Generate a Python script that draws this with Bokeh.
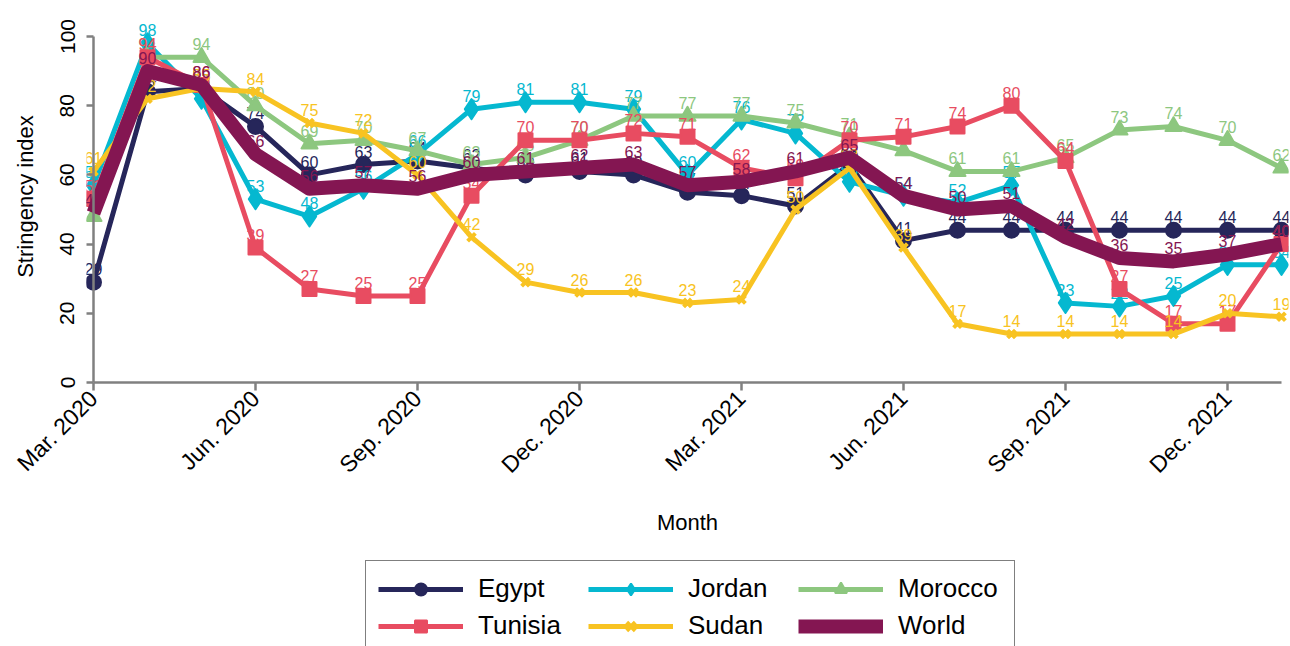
import math
from bokeh.plotting import figure
from bokeh.layouts import column
from bokeh.models import Range1d, FixedTicker, Legend, LegendItem, ColumnDataSource
from bokeh.embed import file_html
from bokeh.resources import INLINE
from bokeh.core.properties import value

# ---------------- data ----------------
months = ["Mar. 2020", "Apr. 2020", "May 2020", "Jun. 2020", "Jul. 2020", "Aug. 2020",
          "Sep. 2020", "Oct. 2020", "Nov. 2020", "Dec. 2020", "Jan. 2021", "Feb. 2021",
          "Mar. 2021", "Apr. 2021", "May 2021", "Jun. 2021", "Jul. 2021", "Aug. 2021",
          "Sep. 2021", "Oct. 2021", "Nov. 2021", "Dec. 2021", "Jan. 2022"]
tick_months = ["Mar. 2020", "Jun. 2020", "Sep. 2020", "Dec. 2020",
               "Mar. 2021", "Jun. 2021", "Sep. 2021", "Dec. 2021"]
y_ticks = [0, 20, 40, 60, 80, 100]

egypt   = [29, 84, 85, 74, 60, 63, 64, 62, 60, 61, 60, 55, 54, 51, 63, 41, 44, 44, 44, 44, 44, 44, 44]
jordan  = [57, 98, 82, 53, 48, 56, 66, 79, 81, 81, 79, 60, 76, 72, 58, 54, 52, 57, 23, 22, 25, 34, 34]
morocco = [48, 94, 94, 80, 69, 70, 67, 63, 65, 70, 77, 77, 77, 75, 71, 67, 61, 61, 65, 73, 74, 70, 62]
tunisia = [53, 94, 86, 39, 27, 25, 25, 54, 70, 70, 72, 71, 62, 59, 70, 71, 74, 80, 64, 27, 17, 17, 40]
sudan   = [61, 82, 85, 84, 75, 72, 60, 42, 29, 26, 26, 23, 24, 50, 62, 39, 17, 14, 14, 14, 14, 20, 19]
world   = [49, 90, 86, 66, 56, 57, 56, 60, 61, 62, 63, 57, 58, 61, 65, 54, 50, 51, 42, 36, 35, 37, 40]

series = [
    ("Egypt",   egypt,   "#26265A", "circle",   15),
    ("Jordan",  jordan,  "#05B8D0", "diamond",  20),
    ("Morocco", morocco, "#8DC77F", "triangle", 16),
    ("Tunisia", tunisia, "#E84C61", "square",   14),
    ("Sudan",   sudan,   "#F8C322", "x",        11),
]
world_color = "#841652"

# ---------------- layout ----------------
FONT = "Liberation Sans"
W, H = 1290, 646
H1 = 560                      # main chart height; legend strip below
frame_left, frame_right_pad, frame_top, frame_bottom = 86, 2, 10, 382
x0_px, px_per_month = 93, 54.0
px_per_unit = 3.46
x_start = -(x0_px - frame_left) / px_per_month
x_end = x_start + (W - frame_left - frame_right_pad) / px_per_month
y_end = (frame_bottom - frame_top) / px_per_unit

p = figure(width=W, height=H1, x_range=Range1d(x_start, x_end), y_range=Range1d(0, y_end),
           output_backend="svg", toolbar_location=None,
           min_border_left=frame_left, min_border_right=frame_right_pad,
           min_border_top=frame_top, min_border_bottom=H1 - frame_bottom)
p.outline_line_color = None
p.xgrid.visible = False
p.ygrid.visible = False

xs = list(range(len(months)))
axis_col = "#808080"

# axes
xa = p.xaxis[0]
xa.ticker = FixedTicker(ticks=[months.index(m) for m in tick_months])
xa.major_label_overrides = {months.index(m): m for m in tick_months}
xa.bounds = (0, len(months) - 1)
xa.major_label_orientation = math.pi / 4
xa.axis_label = "Month"
ya = p.yaxis[0]
ya.ticker = FixedTicker(ticks=y_ticks)
ya.bounds = (y_ticks[0], y_ticks[-1])
ya.major_label_orientation = "vertical"
ya.axis_label = "Stringency index"
for ax in (xa, ya):
    ax.axis_line_color = axis_col
    ax.axis_line_width = 2.5
    ax.major_tick_line_color = axis_col
    ax.major_tick_line_width = 2.5
    ax.major_tick_out = 8
    ax.major_tick_in = 0
    ax.minor_tick_out = 0
    ax.minor_tick_in = 0
    ax.major_label_text_font = FONT
    ax.major_label_text_color = "black"
    ax.axis_label_text_font = FONT
    ax.axis_label_text_font_style = "normal"
    ax.axis_label_text_color = "black"
    ax.axis_label_text_font_size = "22px"
xa.major_label_text_font_size = "23px"
ya.major_label_text_font_size = "21px"
xa.major_label_standoff = 4
xa.axis_label_standoff = 20
# y axis: line drawn at the first month (see below), ticks reach in to it
ya.axis_line_color = None
ya.major_tick_out = 0
ya.major_tick_in = x0_px - frame_left
ya.major_label_standoff = 12
ya.axis_label_standoff = 20

sources = []
for name, vals, col, mk, sz in series:
    src = ColumnDataSource(dict(x=xs, y=vals, t=[str(v) for v in vals]))
    sources.append(src)
    p.line("x", "y", source=src, line_color=col, line_width=5, line_join="round")
    if mk == "x":
        p.scatter("x", "y", source=src, marker=mk, size=sz, line_color=col, line_width=4)
    else:
        p.scatter("x", "y", source=src, marker=mk, size=sz, fill_color=col,
                  line_color=col, line_width=2, line_join="round")
    p.text("x", "y", text="t", source=src, text_font=value(FONT), text_font_size="16px",
           text_color=col, text_align="center", text_baseline="bottom", y_offset=-7)

wsrc = ColumnDataSource(dict(x=xs, y=world, t=[str(v) for v in world]))
p.line("x", "y", source=wsrc, line_color=world_color, line_width=14, line_join="round")
p.text("x", "y", text="t", source=wsrc, text_font=value(FONT), text_font_size="16px",
       text_color=world_color, text_align="center", text_baseline="bottom", y_offset=-7)

# vertical axis line at the first month, spanning the tick range
p.segment(x0=[xs[0]], y0=[y_ticks[0]], x1=[xs[0]], y1=[y_ticks[-1]],
          line_color=axis_col, line_width=2.5)

# ---------------- legend strip ----------------
# same data, but this strip's ranges show none of it: only the legend is visible
H2 = H - H1
p2 = figure(width=W, height=H2, x_range=Range1d(-1000, -999), y_range=Range1d(-1000, -999),
            output_backend="svg", toolbar_location=None,
            x_axis_type=None, y_axis_type=None, min_border=0)
p2.outline_line_color = None
p2.xgrid.visible = False
p2.ygrid.visible = False

items = []
for (name, vals, col, mk, sz), src in zip(series, sources):
    lr = p2.line("x", "y", source=src, line_color=col, line_width=5)
    if mk == "x":
        sr = p2.scatter("x", "y", source=src, marker=mk, size=sz, line_color=col, line_width=4)
    else:
        sr = p2.scatter("x", "y", source=src, marker=mk, size=sz, fill_color=col,
                        line_color=col, line_width=2)
    items.append(LegendItem(label=name, renderers=[lr, sr]))
wl = p2.line("x", "y", source=wsrc, line_color=world_color, line_width=14)
items.append(LegendItem(label="World", renderers=[wl]))

# the strip's frame is aligned with the chart's frame (starts at frame_left)
leg_left, leg_top = 365 - frame_left, 564 - H1
leg_h = 12 + 30 + 6 + 30 + 12
legend = Legend(items=items, orientation="horizontal", ncols=3,
                location=(leg_left, H2 - leg_h - leg_top),
                label_text_font=FONT, label_text_font_size="26px", label_text_color="black",
                glyph_width=85, glyph_height=30, label_height=30, label_width=104,
                label_standoff=15, spacing=6, padding=12, margin=0,
                border_line_color="black", border_line_width=1.5,
                background_fill_color="white", background_fill_alpha=1.0)
p2.add_layout(legend, "center")

open("out.html", "w").write(file_html(column(p, p2, spacing=0), INLINE))
